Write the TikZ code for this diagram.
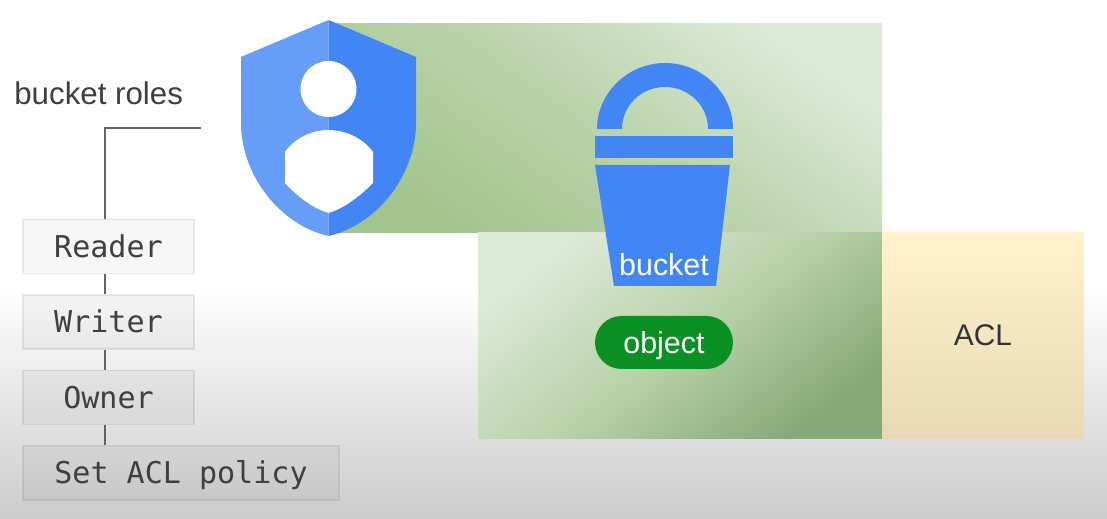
\documentclass[tikz,border=0pt]{standalone}
\usepackage{fontspec}
\setmainfont{Liberation Sans}
\setmonofont{DejaVu Sans Mono}
\usetikzlibrary{positioning,shapes.misc}
\definecolor{shieldlight}{HTML}{669DF6}
\definecolor{shielddark}{HTML}{4285F4}
\definecolor{pillgreen}{HTML}{0B9024}
\definecolor{inkgray}{HTML}{3C4043}
\definecolor{linegray}{HTML}{5F6368}
\definecolor{greenlight}{HTML}{DCEAD6}
\definecolor{greenmid}{HTML}{A3C48E}
\definecolor{greenhalf}{HTML}{BAD3AB}
\definecolor{greendeep}{HTML}{86A97A}
\definecolor{acltop}{HTML}{FFF2CC}
\definecolor{aclbottom}{HTML}{E6D9B3}
\tikzset{
  rolebox/.style={draw=black,draw opacity=.08,fill=black,fill opacity=.035,text opacity=1,line width=.8pt,
    minimum height=1.08cm,inner sep=0pt,text=inkgray,text height=12.4pt,text depth=0pt,font=\ttfamily\fontsize{17.1}{20}\selectfont},
  roleline/.style={linegray,line width=1.1pt}
}
\begin{document}
\begin{tikzpicture}[x=0.02cm,y=-0.02cm]
\useasboundingbox (0,0) rectangle (1107,519);
% backdrop
\fill[white] (0,0) rectangle (1107,519);
\shade[top color=white,bottom color=black!20] (0,285) rectangle (1107,519);
% coloured bands
\shade[top color=greenlight,bottom color=greenmid,middle color=greenhalf,shading angle=-35] (330,24) rectangle (882,233);
\shade[top color=greenlight,bottom color=greendeep,middle color=greenhalf,shading angle=38] (478,233) rectangle (882,439);
\shade[top color=acltop,bottom color=aclbottom] (882,233) rectangle (1084,439);
% shield
\fill[shieldlight] (328.5,20) -- (241,57) -- (241,123) .. controls (241,175) and (280,225) .. (328.5,236) -- cycle;
\fill[shielddark] (328.5,20) -- (416,57) -- (416,123) .. controls (416,175) and (377,225) .. (328.5,236) -- cycle;
\fill[white] (328.5,89) circle[radius=28];
\fill[white] (285,152) .. controls (295,138) and (312,130) .. (328.5,130) .. controls (345,130) and (363,138) .. (373,152)
  -- (373,183) .. controls (360,196) and (345,208) .. (328.5,213) .. controls (312,208) and (297,196) .. (285,183) -- cycle;
% bucket
\fill[shielddark] (597,129) .. controls (597,93) and (628,63) .. (665,63) .. controls (702,63) and (733,93) .. (733,129)
  -- (708,129) .. controls (708,106) and (689,87) .. (665,87) .. controls (641,87) and (622,106) .. (622,129) -- cycle;
\fill[shielddark] (595,136) rectangle (733,158);
\fill[shielddark] (595,165) -- (730,165) -- (716,286) -- (614,286) -- cycle;
\node[text=white,font=\fontsize{17.3}{20}\selectfont] (bucket) at (664,265) {bucket};
\node[rounded rectangle,fill=pillgreen,text=white,minimum width=2.76cm,minimum height=1.06cm,inner sep=0pt,
  text height=13pt,text depth=0pt,font=\fontsize{17.3}{20}\selectfont] (object) at (664,342.5) {object};
\node[text=black!80,font=\fontsize{17}{20}\selectfont] (acl) at (983,335) {ACL};
% roles
\node[anchor=west,text=inkgray,inner sep=0pt,font=\fontsize{17.8}{20}\selectfont] (roles) at (14,93) {bucket roles};
\node[rolebox,minimum width=3.42cm] (reader) at (108.5,246.5) {Reader};
\node[rolebox,minimum width=3.42cm] (writer) at (108.5,322) {Writer};
\node[rolebox,minimum width=3.42cm] (owner) at (108.5,397.5) {Owner};
\node[rolebox,minimum width=6.32cm] (setacl) at (181,473) {Set ACL policy};
\coordinate (roleend) at (201,128);
\coordinate (rolecorner) at (105,128);
\draw[roleline] (roleend) -- (rolecorner) -- (rolecorner |- reader.north);
\draw[roleline] (rolecorner |- reader.south) -- (rolecorner |- writer.north);
\draw[roleline] (rolecorner |- writer.south) -- (rolecorner |- owner.north);
\draw[roleline] (rolecorner |- owner.south) -- (rolecorner |- setacl.north);
\end{tikzpicture}
\end{document}
